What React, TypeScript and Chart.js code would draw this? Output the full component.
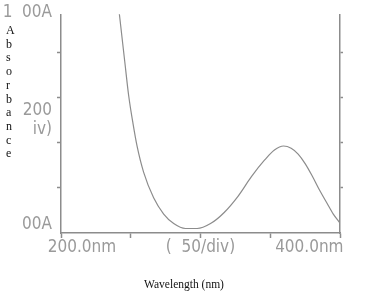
import React, { useEffect, useRef } from 'react';
import { Chart, registerables } from 'chart.js';
Chart.register(...registerables);

// Spectrum trace (wavelength in nm, absorbance in divisions)
const wavelengths = [241.3, 241.9, 246.0, 248.5, 251.6, 254.5, 259.2, 266.4, 273.6, 280.8, 289.2, 297.6, 307.2, 316.8, 327.0, 336.5, 346.0, 353.0, 359.5, 365.0, 370.0, 375.0, 380.0, 385.7, 390.5, 395.2, 400];
const absorbance = [5.0, 4.84, 3.72, 3.05, 2.43, 1.93, 1.35, 0.78, 0.42, 0.21, 0.10, 0.10, 0.21, 0.45, 0.82, 1.25, 1.62, 1.84, 1.93, 1.88, 1.75, 1.54, 1.27, 0.93, 0.67, 0.42, 0.22];

// Axis ticks and labels
const xMarkTicks = [200, 250, 300, 350, 400];
const xLabelTicks = [215, 300, 378];
const xLabels = ['200.0nm', '(  50/div)', '400.0nm'];
const yMarkTicks = [0, 1, 2, 3, 4];
const yLabelTicks = [0.19, 2.5, 4.88];
const yLabels: (string | string[])[] = ['00A', ['200', 'iv)'], '1  00A'];
const yTitle = 'Absorbance';
const xTitle = 'Wavelength (nm)';

const X_MIN = 200, X_MAX = 400, Y_MIN = 0, Y_MAX = 4.85;
const GRAY = '#8c8c8c';
const TEXT_GRAY = '#9a9a9a';
const TICK_FONT = { family: '"DejaVu Sans Condensed", "Liberation Mono", monospace', size: 17, lineHeight: 1.1 };

function unionTicks(a: number[], b: number[]) {
  return Array.from(new Set([...a, ...b])).sort((p, q) => p - q).map((v) => ({ value: v }));
}

export default function App() {
  const ref = useRef<HTMLCanvasElement>(null);
  useEffect(() => {
    if (!ref.current) return;
    const chart = new Chart(ref.current, {
      type: 'line',
      data: {
        datasets: [{
          data: wavelengths.map((w, i) => ({ x: w, y: absorbance[i] })),
          borderColor: GRAY,
          borderWidth: 1.2,
          pointRadius: 0,
          cubicInterpolationMode: 'monotone',
          fill: false,
        }],
      },
      options: {
        animation: false,
        responsive: false,
        layout: { padding: { top: 8, left: 0, right: 0, bottom: 0 } },
        plugins: { legend: { display: false }, tooltip: { enabled: false } },
        scales: {
          x: {
            type: 'linear', min: X_MIN, max: X_MAX,
            afterBuildTicks: (s: any) => { s.ticks = unionTicks(xMarkTicks, xLabelTicks); },
            afterFit: (s: any) => { s.height = 62; },
            ticks: {
              autoSkip: false, maxRotation: 0, minRotation: 0, padding: 0,
              color: TEXT_GRAY, font: TICK_FONT,
              callback: (v: any) => { const i = xLabelTicks.indexOf(Number(v)); return i >= 0 ? xLabels[i] : ''; },
            },
            grid: {
              drawOnChartArea: false, tickLength: 5, tickWidth: 1.5,
              tickColor: (c: any) => (xMarkTicks.includes(c.tick?.value) ? GRAY : 'rgba(0,0,0,0)'),
            },
            border: { display: true, color: GRAY, width: 1.5 },
          },
          y: {
            type: 'linear', position: 'left', min: Y_MIN, max: Y_MAX,
            afterBuildTicks: (s: any) => { s.ticks = unionTicks(yMarkTicks, yLabelTicks); },
            afterFit: (s: any) => { s.width = 61; },
            ticks: {
              autoSkip: false, padding: 5, color: TEXT_GRAY, font: TICK_FONT,
              callback: (v: any) => { const i = yLabelTicks.indexOf(Number(v)); return i >= 0 ? yLabels[i] : ''; },
            },
            grid: {
              drawOnChartArea: false, tickLength: 4, tickWidth: 1.5,
              tickColor: (c: any) => (yMarkTicks.includes(c.tick?.value) && c.tick?.value !== 0 ? GRAY : 'rgba(0,0,0,0)'),
            },
            border: { display: true, color: GRAY, width: 1.5 },
          },
          y2: {
            type: 'linear', position: 'right', min: Y_MIN, max: Y_MAX,
            afterBuildTicks: (s: any) => { s.ticks = yMarkTicks.map((v) => ({ value: v })); },
            afterFit: (s: any) => { s.width = 35; },
            ticks: { autoSkip: false, callback: () => '', padding: 0 },
            grid: {
              drawOnChartArea: false, tickLength: 3, tickWidth: 1.5,
              tickColor: (c: any) => (c.tick?.value !== 0 ? GRAY : 'rgba(0,0,0,0)'),
            },
            border: { display: true, color: GRAY, width: 1.5 },
          },
        },
      } as any,
    });
    return () => chart.destroy();
  }, []);

  return (
    <div style={{ position: 'fixed', left: 0, top: 0, width: 375, height: 295, background: '#fff', overflow: 'hidden' }}>
      <canvas ref={ref} width={375} height={295} style={{ position: 'absolute', left: 0, top: 0 }} />
      <div style={{ position: 'absolute', left: 6, top: 24, fontFamily: '"Liberation Serif", serif', fontSize: 12, lineHeight: '13.7px', color: '#111' }}>
        {yTitle.split('').map((ch, i) => (<div key={i}>{ch}</div>))}
      </div>
      <div style={{ position: 'absolute', left: 104, width: 160, top: 277, textAlign: 'center', fontFamily: '"Liberation Serif", serif', fontSize: 11.5, lineHeight: '14px', color: '#111' }}>
        {xTitle}
      </div>
    </div>
  );
}
